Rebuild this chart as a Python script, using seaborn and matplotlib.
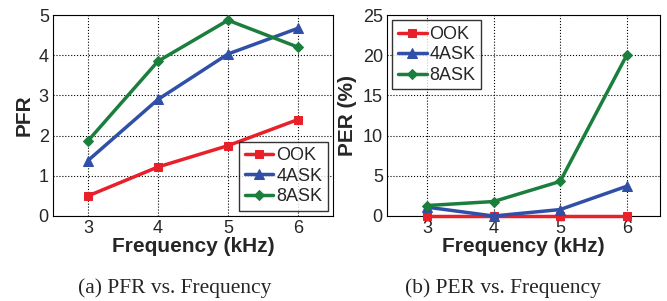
import matplotlib
matplotlib.use("Agg")
import matplotlib.pyplot as plt
import seaborn as sns
import pandas as pd

freq = [3, 4, 5, 6]
series = ["OOK", "4ASK", "8ASK"]
pfr_ook = [0.5, 1.22, 1.75, 2.4]
pfr_4ask = [1.38, 2.9, 4.03, 4.67]
pfr_8ask = [1.87, 3.85, 4.87, 4.2]
per_ook = [0, 0, 0, 0]
per_4ask = [1.1, 0.0, 0.8, 3.7]
per_8ask = [1.3, 1.8, 4.3, 20.0]

colors = {"OOK": "#e8202a", "4ASK": "#3050a8", "8ASK": "#1a7f3c"}
markers = {"OOK": "s", "4ASK": "^", "8ASK": "D"}
msizes = {"OOK": 6, "4ASK": 7, "8ASK": 5.5}

sns.set_style("white")
plt.rcParams["font.family"] = ["Liberation Sans", "DejaVu Sans"]

def make_df(vals):
    rows = []
    for name, v in zip(series, vals):
        for f, y in zip(freq, v):
            rows.append({"freq": f, "val": y, "mod": name})
    return pd.DataFrame(rows)

df_pfr = make_df([pfr_ook, pfr_4ask, pfr_8ask])
df_per = make_df([per_ook, per_4ask, per_8ask])

fig = plt.figure(figsize=(6.67, 3.01), dpi=100)
ax1 = fig.add_axes([53/667, 1 - 216/301, 280/667, 201/301])
ax2 = fig.add_axes([387/667, 1 - 216/301, 273/667, 201/301])

def draw(ax, df, ylim, yticks, ylabel, legloc, xlo):
    for name in series:
        sub = df[df["mod"] == name]
        sns.lineplot(data=sub, x="freq", y="val", ax=ax, color=colors[name],
                     marker=markers[name], markersize=msizes[name],
                     markeredgecolor=colors[name], linewidth=2.5, label=name,
                     clip_on=False, zorder=3)
    ax.set_xlim(xlo, 6.5)
    ax.set_ylim(*ylim)
    ax.set_xticks(freq)
    ax.set_yticks(yticks)
    ax.grid(True, color="black", linestyle=":", linewidth=0.8)
    ax.set_axisbelow(True)
    for s in ax.spines.values():
        s.set_color("black")
        s.set_linewidth(0.8)
    ax.tick_params(labelsize=13, length=3, direction="in", pad=3)
    ax.set_xlabel("Frequency (kHz)", fontsize=15, fontweight="bold", labelpad=0)
    ax.set_ylabel(ylabel, fontsize=15, fontweight="bold", labelpad=4)
    leg = ax.legend(loc=legloc, fontsize=13, frameon=True, fancybox=False,
                    handlelength=1.6, handletextpad=0.15, borderpad=0.3,
                    labelspacing=0.2, borderaxespad=0.3)
    leg.get_frame().set_edgecolor("black")
    leg.get_frame().set_linewidth(1.0)
    leg.set_zorder(5)

draw(ax1, df_pfr, (0, 5), [0, 1, 2, 3, 4, 5], "PFR", "lower right", 2.5)
draw(ax2, df_per, (0, 25), [0, 5, 10, 15, 20, 25], "PER (%)", "upper left", 2.4)

fig.text(175/667, 1 - 288/301, "(a) PFR vs. Frequency", ha="center", va="center",
         fontsize=15.5, family=["Liberation Serif"])
fig.text(503/667, 1 - 288/301, "(b) PER vs. Frequency", ha="center", va="center",
         fontsize=15.5, family=["Liberation Serif"])

fig.savefig("out.png", dpi=100)
